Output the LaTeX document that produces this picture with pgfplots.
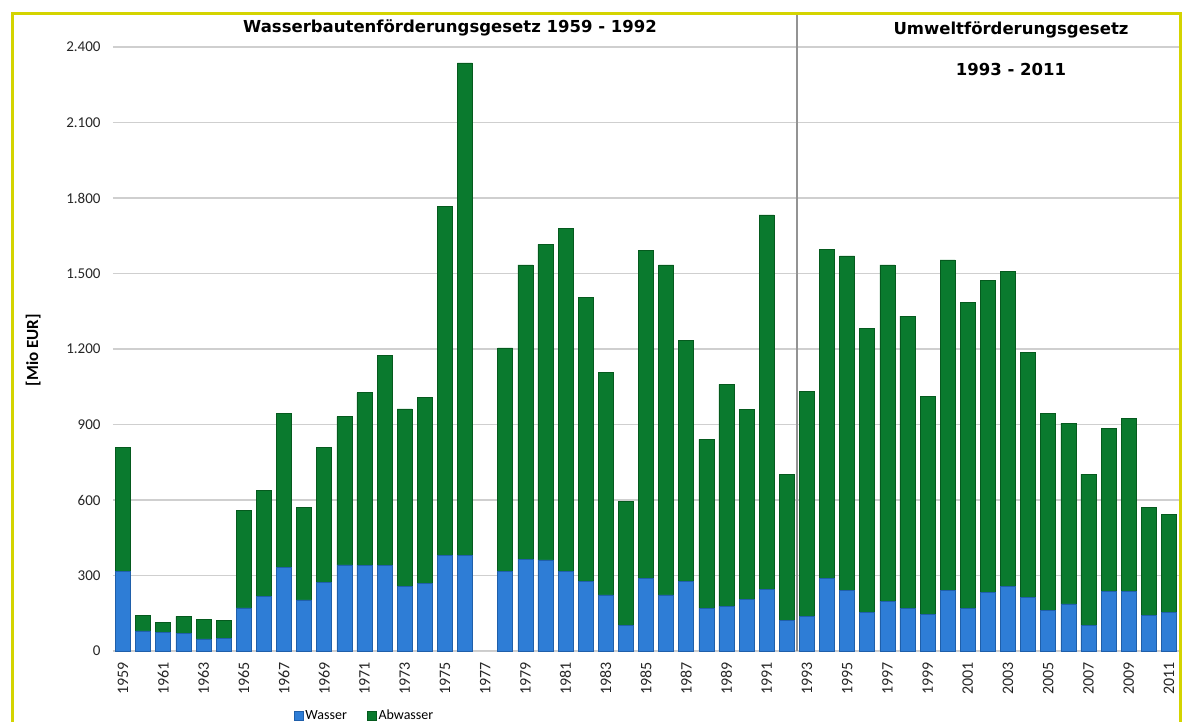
\documentclass[border=0pt]{standalone}
\usepackage{fontspec}
\setmainfont{Carlito}
\newfontfamily\titlefont{DejaVu Sans}
\usepackage{pgfplots}
\pgfplotsset{compat=1.18}
\usepackage{pgfplotstable}
\definecolor{wblue}{HTML}{2E7DD6}
\definecolor{wbluedark}{HTML}{1F5FAA}
\definecolor{agreen}{HTML}{0A7A2E}
\definecolor{agreendark}{HTML}{055A1E}
\definecolor{frameyellow}{HTML}{D4D400}

\pgfplotstableread{
year wasser abwasser
1959 315 495
1960 80 62
1961 75 38
1962 70 68
1963 48 78
1964 49 74
1965 171 389
1966 216 421
1967 333 612
1968 203 368
1969 273 535
1970 342 589
1971 339 687
1972 340 833
1973 256 706
1974 269 738
1975 381 1387
1976 381 1956
1978 315 889
1979 364 1170
1980 362 1254
1981 315 1363
1982 278 1127
1983 223 883
1984 101 492
1985 289 1302
1986 223 1311
1987 276 957
1988 170 671
1989 176 883
1990 205 755
1991 246 1487
1992 121 582
1993 139 891
1994 287 1309
1995 242 1328
1996 152 1130
1997 196 1338
1998 170 1161
1999 146 865
2000 240 1314
2001 170 1216
2002 232 1240
2003 256 1251
2004 213 972
2005 160 785
2006 187 718
2007 103 600
2008 236 649
2009 236 689
2010 140 431
2011 154 389
}\datatable

\begin{document}
\begin{tikzpicture}
\path[use as bounding box] (0pt,0pt) rectangle (1184pt,722pt);
\fill[white] (0pt,0pt) rectangle (1184pt,722pt);
\begin{axis}[
  at={(113pt,71pt)}, anchor=south west,
  width=1066pt, height=604pt, scale only axis,
  xmin=1958.5, xmax=2011.5, ymin=0, ymax=2400,
  ybar stacked, bar width=15pt,
  clip=false,
  axis x line*=bottom, axis y line*=left,
  x axis line style={draw=gray!40, line width=1pt, -},
  y axis line style={draw=none},
  ymajorgrids, major grid style={draw=gray!38, line width=1.5pt},
  ytick={0,300,...,2400},
  xtick={1959,1961,...,2011},
  major tick length=0pt,
  /pgf/number format/.cd, 1000 sep={.}, assume math mode=true,
  /pgfplots/.cd,
  xticklabel={\pgfmathprintnumber[1000 sep={}]{\tick}},
  yticklabel style={font=\fontsize{15}{15}\selectfont, text=black!85, anchor=east, xshift=-9pt},
  xticklabel style={font=\fontsize{16}{16}\selectfont, text=black!85, rotate=90, anchor=east, xshift=-8pt},
  ylabel={[Mio EUR]},
  ylabel style={at={(axis description cs:-0.075,0.498)}, anchor=center, font=\bfseries\fontsize{17}{17}\selectfont},
  legend style={at={(0.236,-0.107)}, anchor=center, draw=none, fill=none,
    legend columns=2, font=\fontsize{14}{14}\selectfont,
    /tikz/every even column/.append style={column sep=18pt}},
  legend image code/.code={\fill[#1] (0pt,-4.5pt) rectangle (9pt,4.5pt);},
]
\addplot[fill=wblue, draw=wbluedark, line width=0.6pt] table[x=year, y=wasser] {\datatable};
\addplot[fill=agreen, draw=agreendark, line width=0.6pt] table[x=year, y=abwasser] {\datatable};
\legend{Wasser, Abwasser}
\draw[gray!85, line width=2pt] (axis cs:1992.5,0) -- (axis cs:1992.5,2531);
\end{axis}
\node[font=\titlefont\bfseries\fontsize{16.5}{16.5}\selectfont] at (450pt,694pt) {Wasserbautenförderungsgesetz 1959 - 1992};
\node[font=\titlefont\bfseries\fontsize{16.5}{16.5}\selectfont] at (1011pt,692pt) {Umweltförderungsgesetz};
\node[font=\titlefont\bfseries\fontsize{16.5}{16.5}\selectfont] at (1011pt,652pt) {1993 - 2011};
\draw[frameyellow, line width=3pt] (12pt,-20pt) -- (12pt,708pt) -- (1180pt,708pt) -- (1180pt,-20pt);
\end{tikzpicture}
\end{document}
